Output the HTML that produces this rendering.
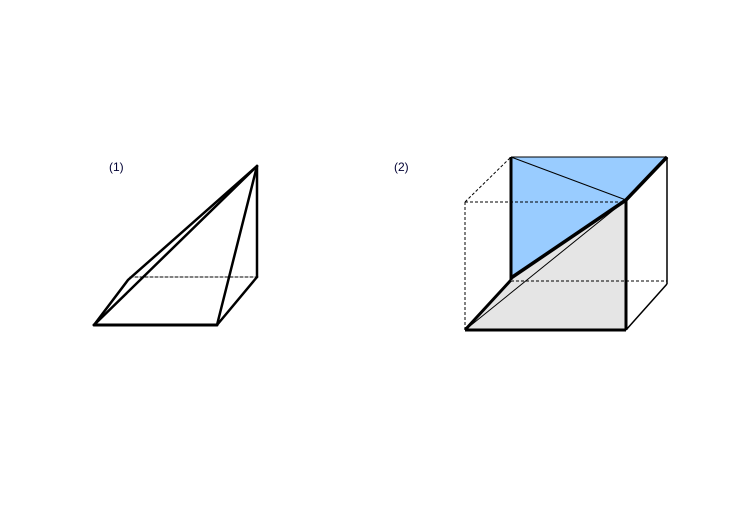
<!DOCTYPE html>
<html><head><style>body{margin:0;background:#fff}</style></head><body>
<svg width="742" height="500" xmlns="http://www.w3.org/2000/svg">
<rect width="742" height="500" fill="#fff"/>
<text x="109" y="171" font-family="Liberation Sans, sans-serif" font-size="12" fill="#000033">(1)</text>
<text x="394" y="171" font-family="Liberation Sans, sans-serif" font-size="12" fill="#000033">(2)</text>
<g stroke="#000" fill="none" stroke-linecap="round">
<line x1="130" y1="277" x2="257" y2="277" stroke-dasharray="3,2" stroke-width="1"/>
<line x1="94" y1="325" x2="257" y2="166" stroke-width="2.5"/>
<path d="M94 325 L128 280 L257 166" stroke-width="2.5"/>
<line x1="94" y1="325" x2="217" y2="325" stroke-width="3"/>
<line x1="217" y1="325" x2="257" y2="277" stroke-width="2.5"/>
<line x1="257" y1="277" x2="257" y2="166" stroke-width="2.5"/>
<line x1="217" y1="325" x2="257" y2="166" stroke-width="2.5"/>
</g>
<polygon points="511,157 667,157 626,200 511,278" fill="#99ccff"/>
<polygon points="465,330 626,330 626,200 511,278" fill="#e5e5e5"/>
<g stroke="#000" fill="none">
<line x1="465" y1="202" x2="511" y2="157" stroke-dasharray="3,2" stroke-width="1"/>
<line x1="465" y1="202" x2="626" y2="202" stroke-dasharray="3,2" stroke-width="1"/>
<line x1="465" y1="202" x2="465" y2="330" stroke-dasharray="3,2" stroke-width="1"/>
<line x1="511" y1="281" x2="667" y2="281" stroke-dasharray="3,2" stroke-width="1"/>
<line x1="511" y1="157" x2="626" y2="200" stroke-width="1"/>
<line x1="465" y1="330" x2="626" y2="200" stroke-width="1"/>
<line x1="667" y1="157" x2="667" y2="284" stroke-width="1.5"/>
<line x1="626" y1="330" x2="667" y2="284" stroke-width="1.5"/>
<line x1="511" y1="157" x2="667" y2="157" stroke-width="1"/>
<line x1="465" y1="330" x2="626" y2="330" stroke-width="3"/>
<line x1="626" y1="330" x2="626" y2="200" stroke-width="3"/>
<line x1="626" y1="200" x2="667" y2="157" stroke-width="3.5"/>
<line x1="511" y1="157" x2="511" y2="280" stroke-width="3"/>
<line x1="511" y1="280" x2="465" y2="330" stroke-width="3"/>
<line x1="511" y1="278" x2="626" y2="200" stroke-width="3.5"/>
</g>
</svg>
</body></html>
